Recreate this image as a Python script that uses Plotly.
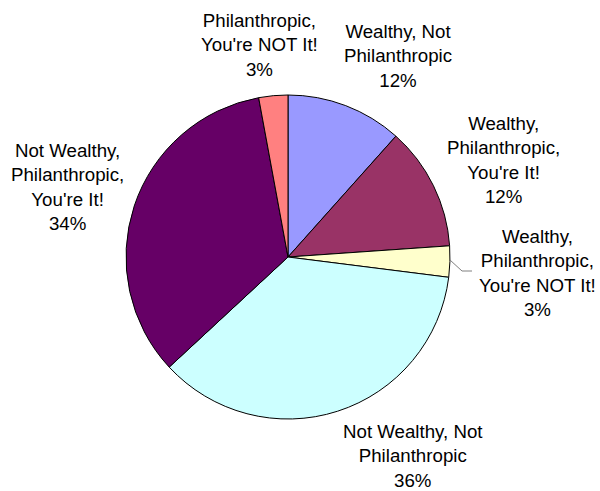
import plotly.graph_objects as go

categories = [
    "Wealthy, Not Philanthropic",
    "Wealthy, Philanthropic, You're It!",
    "Wealthy, Philanthropic, You're NOT It!",
    "Not Wealthy, Not Philanthropic",
    "Not Wealthy, Philanthropic, You're It!",
    "Philanthropic, You're NOT It!",
]
display_labels = [
    "Wealthy, Not<br>Philanthropic",
    "Wealthy,<br>Philanthropic,<br>You're It!",
    "Wealthy,<br>Philanthropic,<br>You're NOT It!",
    "Not Wealthy, Not<br>Philanthropic",
    "Not Wealthy,<br>Philanthropic,<br>You're It!",
    "Philanthropic,<br>You're NOT It!",
]
values = [11.6, 12.3, 3.1, 36.1, 34.0, 2.9]
colors = ["#9999FF", "#993366", "#FFFFCC", "#CCFFFF", "#660066", "#FF8080"]

W, H = 600, 491
cx, cy, r = 288, 257, 162

def px(x):
    return x / W

def py(y):
    return 1 - y / H

fig = go.Figure(go.Pie(
    labels=categories,
    values=values,
    sort=False,
    direction="clockwise",
    rotation=0,
    textinfo="none",
    hoverinfo="label+percent",
    marker=dict(colors=colors, line=dict(color="#000000", width=1)),
    domain=dict(x=[px(cx - r), px(cx + r)], y=[py(cy + r), py(cy - r)]),
    showlegend=False,
))

# label placement (pixel centres of each text block)
label_pos = [(398, 56), (503, 160), (537, 273), (413, 456), (67, 187), (259, 45)]
total = sum(values)
annotations = []
for lab, v, (x, y) in zip(display_labels, values, label_pos):
    pct = round(v / total * 100)
    annotations.append(dict(
        x=px(x), y=py(y), xref="paper", yref="paper",
        text=f"{lab}<br>{pct}%", showarrow=False,
        xanchor="center", yanchor="middle", align="center",
        font=dict(family="Liberation Sans, Arial, sans-serif", size=18.7, color="#000000"),
    ))

# leader line for the small yellow slice
fig.add_shape(type="path", xref="paper", yref="paper",
              path=f"M {px(450)} {py(260)} L {px(462)} {py(271)} L {px(472)} {py(271)}",
              line=dict(color="#808080", width=1))

fig.update_layout(
    width=W, height=H,
    margin=dict(l=0, r=0, t=0, b=0),
    paper_bgcolor="#FFFFFF",
    plot_bgcolor="#FFFFFF",
    annotations=annotations,
)

fig.write_html(
    "out.html",
    config={"displayModeBar": False},
    post_script="document.body.style.margin='0';document.body.style.overflow='hidden';",
)
